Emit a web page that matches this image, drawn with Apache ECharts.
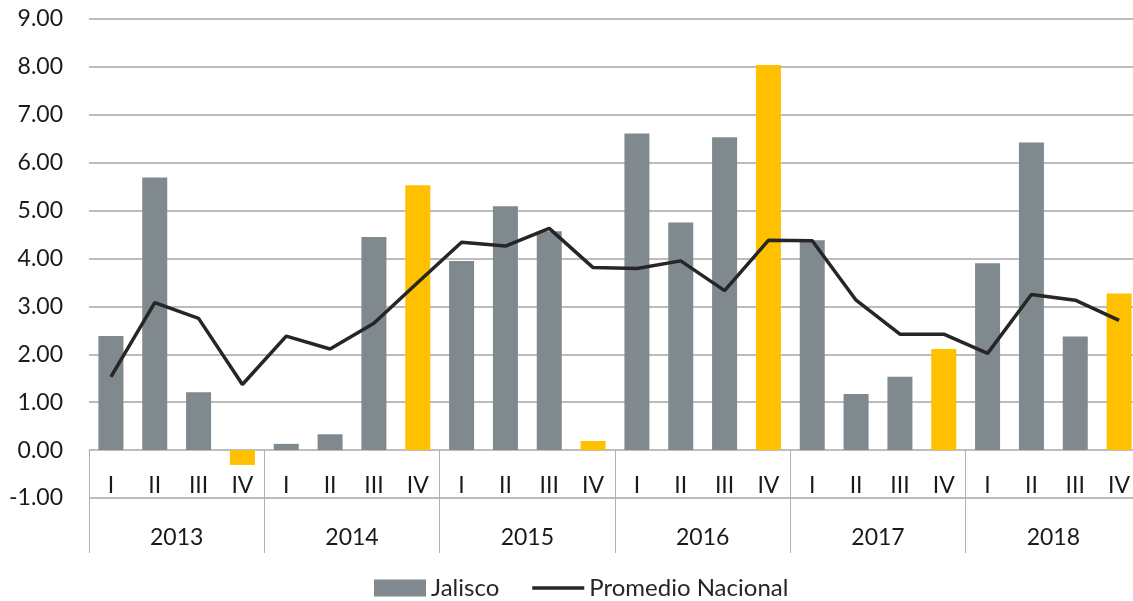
<!DOCTYPE html>
<html>
<head>
<meta charset="utf-8">
<script src="https://cdn.jsdelivr.net/npm/echarts@6/dist/echarts.min.js"></script>
<style>
html,body{margin:0;padding:0;background:#fff;}
#c{width:1133px;height:601px;}
</style>
</head>
<body>
<div id="c"></div>
<script>
const years = ['2013','2014','2015','2016','2017','2018'];
const quarters = ['I','II','III','IV'];
const jalisco = [2.38,5.69,1.21,-0.31, 0.13,0.33,4.45,5.53, 3.95,5.09,4.57,0.19, 6.61,4.75,6.53,8.04, 4.38,1.17,1.53,2.11, 3.90,6.42,2.37,3.27];
const promedio = [1.53,3.08,2.75,1.37, 2.38,2.11,2.65,3.50, 4.34,4.26,4.63,3.81, 3.79,3.95,3.33,4.38, 4.37,3.13,2.42,2.42, 2.02,3.25,3.13,2.71];
const yTicks = [-1,0,1,2,3,4,5,6,7,8,9];

const qCats = [];
years.forEach(y => quarters.forEach(q => qCats.push(y + '-' + q)));

const GRAY = '#7f898e', YELLOW = '#ffc000', LINE = '#262626';
const FONT = 'Lato';
const SEP = '#b0b0b0';
const TXT = '#1a1a1a';
const PLOT_W = 1052;

const chart = echarts.init(document.getElementById('c'));
chart.setOption({
  animation: false,
  backgroundColor: '#fff',
  textStyle: { fontFamily: FONT },
  grid: [
    { left: 89, width: PLOT_W, top: 19, bottom: 103, containLabel: false, outerBoundsMode: 'none' },
    { left: 89, width: PLOT_W, top: 450, bottom: 103, containLabel: false, outerBoundsMode: 'none' },
    { left: 89, width: PLOT_W, top: 498, bottom: 48, containLabel: false, outerBoundsMode: 'none' }
  ],
  legend: {
    bottom: -4,
    left: 369,
    itemWidth: 52,
    itemHeight: 17,
    itemGap: 33,
    textStyle: { fontFamily: FONT, fontSize: 24, color: '#262626' },
    data: [
      { name: 'Jalisco', icon: 'rect', itemStyle: { color: GRAY } },
      { name: 'Promedio Nacional', icon: 'path://M0,0H54V3.5H0Z', itemStyle: { color: LINE } }
    ]
  },
  xAxis: [
    {
      type: 'category',
      gridIndex: 0,
      data: qCats,
      boundaryGap: true,
      axisLine: { show: false },
      axisTick: { show: false },
      axisLabel: { show: false },
      splitLine: { show: false }
    },
    {
      type: 'category',
      gridIndex: 1,
      data: qCats,
      position: 'top',
      boundaryGap: true,
      axisLine: { show: true, onZero: false, lineStyle: { color: '#bfbfbf', width: 1 } },
      axisTick: { show: true, inside: true, length: 48, interval: (i) => i % 4 === 0, lineStyle: { color: SEP } },
      axisLabel: { inside: true, interval: 0, margin: 24, fontFamily: FONT, fontSize: 23, color: TXT,
        formatter: v => v.split('-')[1] },
      splitLine: { show: false }
    },
    {
      type: 'category',
      gridIndex: 2,
      data: years,
      position: 'top',
      boundaryGap: true,
      axisLine: { show: false, onZero: false },
      axisTick: { show: true, inside: true, length: 55, interval: 0, lineStyle: { color: SEP } },
      axisLabel: { inside: true, interval: 0, margin: 28, fontFamily: FONT, fontSize: 23, color: TXT },
      splitLine: { show: false }
    }
  ],
  yAxis: [
    {
      type: 'value',
      gridIndex: 0,
      min: yTicks[0],
      max: yTicks[yTicks.length - 1],
      interval: 1,
      axisLine: { show: false },
      axisTick: { show: false },
      axisLabel: { margin: 26, fontFamily: FONT, fontSize: 23, color: TXT, formatter: v => v.toFixed(2) },
      splitLine: { show: true, lineStyle: { color: '#a6a6a6', width: 1.5 } }
    },
    { type: 'value', gridIndex: 1, show: false, min: 0, max: 1 },
    { type: 'value', gridIndex: 2, show: false, min: 0, max: 1 }
  ],
  series: [
    {
      name: 'Jalisco',
      type: 'bar',
      xAxisIndex: 0,
      yAxisIndex: 0,
      barWidth: 25,
      z: 3,
      itemStyle: { color: GRAY },
      data: jalisco.map((v, i) => ({ value: v, itemStyle: { color: i % 4 === 3 ? YELLOW : GRAY } }))
    },
    {
      name: 'Promedio Nacional',
      type: 'line',
      xAxisIndex: 0,
      yAxisIndex: 0,
      symbol: 'none',
      itemStyle: { color: LINE },
      lineStyle: { color: LINE, width: 3.5 },
      z: 5,
      data: promedio
    }
  ]
});
</script>
</body>
</html>
